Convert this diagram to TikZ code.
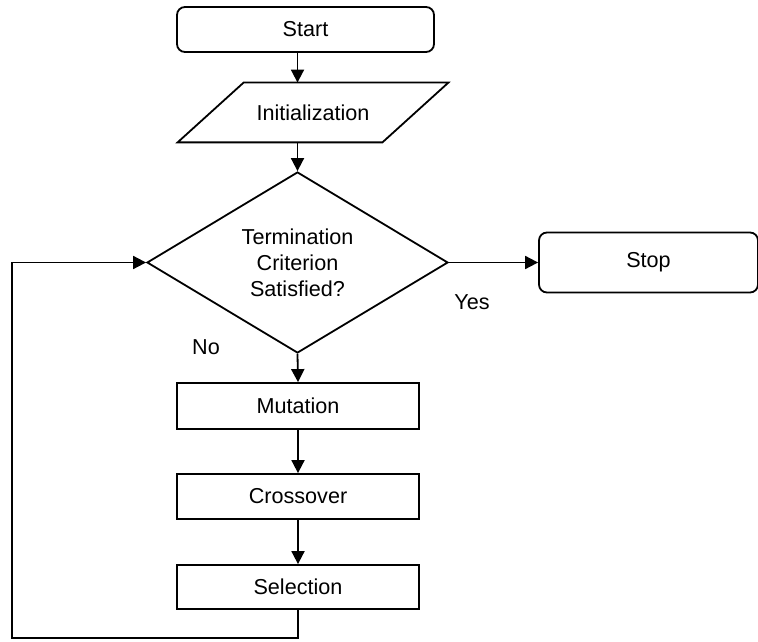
\documentclass[tikz,border=0pt]{standalone}
\usepackage{fontspec}
\setmainfont{Liberation Sans}
\usetikzlibrary{shapes,calc,arrows.meta}
\tikzset{
  flowbox/.style={draw,rectangle,line width=0.9pt,inner sep=0pt},
  termbox/.style={flowbox,rounded corners=4pt},
  flowarrow/.style={line width=0.9pt,-{Triangle[length=6.5pt,width=6.5pt]}}
}

\begin{document}
\begin{tikzpicture}[x=0.5pt,y=-0.5pt,font=\fontsize{10.8}{13}\selectfont]
\useasboundingbox (0,0) rectangle (758,641);
\node[termbox,minimum width=128.5pt,minimum height=22.5pt] (Start) at (305.5,29.5) {Start};
\node[inner sep=0pt,minimum width=135pt,minimum height=29.5pt] (Init) at (313,112.5) {Initialization};
\draw[line width=0.9pt] (Init.south west) -- ($(Init.north west)+(66,0)$) -- (Init.north east) -- ($(Init.south east)-(66,0)$) -- cycle;
\node[draw,diamond,line width=0.9pt,inner sep=0pt,minimum width=150.5pt,minimum height=90.5pt,align=center] (Dec) at (297.5,262.5) {Termination\\Criterion\\Satisfied?};
\node[termbox,minimum width=109.5pt,minimum height=30pt] (Stop) at (648.5,262.5) {Stop};
\node[flowbox,minimum width=121pt,minimum height=23pt] (Mut) at (298,406) {Mutation};
\node[flowbox,minimum width=121pt,minimum height=22.5pt] (Cross) at (298,496.5) {Crossover};
\node[flowbox,minimum width=121pt,minimum height=22pt] (Sel) at (298,587) {Selection};
\node (Yes) at (472,302) {Yes};
\node (No) at (206,347) {No};
\coordinate (LoopCorner) at (12,638);

\draw[flowarrow] (Start.south -| Dec.north) -- (Init.north -| Dec.north);
\draw[flowarrow] (Init.south -| Dec.north) -- (Dec.north);
\draw[flowarrow] (Dec.east) -- (Stop.west);
\draw[flowarrow] (Dec.south) -- (Mut.north);
\draw[flowarrow] (Mut) -- (Cross);
\draw[flowarrow] (Cross) -- (Sel);
\draw[flowarrow] (Sel.south) |- (LoopCorner) |- (Dec.west);
\end{tikzpicture}
\end{document}
